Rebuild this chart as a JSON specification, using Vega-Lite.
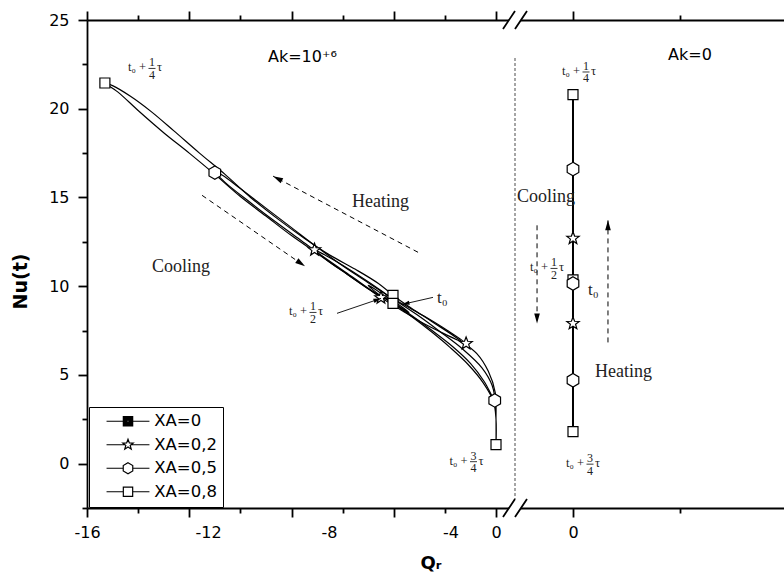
{
"$schema":"https://vega.github.io/schema/vega-lite/v6.json",
"width":697,"height":488,
"autosize":{"type":"none"},
"padding":{"left":87,"top":20,"right":0,"bottom":71},
"background":"white",
"config":{
 "view":{"stroke":null},
 "axis":{"domainColor":"black","domainWidth":1.8,"tickColor":"black","tickWidth":1.8,"labelColor":"black","labelFont":"DejaVu Sans","labelFontSize":16,"titleFont":"DejaVu Sans","titleColor":"black","titleFontWeight":"bold","grid":false}
},
"datasets":{
 "curves":[
  {"s":"XA=0,8","i":1,"Qr":-4.03,"Nu":9.48},{"s":"XA=0,8","i":2,"Qr":-4.6,"Nu":10.15},{"s":"XA=0,8","i":3,"Qr":-5.5,"Nu":10.95},{"s":"XA=0,8","i":4,"Qr":-6.5,"Nu":11.75},{"s":"XA=0,8","i":5,"Qr":-7.5,"Nu":12.7},{"s":"XA=0,8","i":6,"Qr":-8.5,"Nu":13.75},{"s":"XA=0,8","i":7,"Qr":-9.6,"Nu":15.0},{"s":"XA=0,8","i":8,"Qr":-10.6,"Nu":16.3},{"s":"XA=0,8","i":9,"Qr":-11.6,"Nu":17.5},{"s":"XA=0,8","i":10,"Qr":-12.6,"Nu":18.75},{"s":"XA=0,8","i":11,"Qr":-13.5,"Nu":19.85},{"s":"XA=0,8","i":12,"Qr":-14.3,"Nu":20.7},{"s":"XA=0,8","i":13,"Qr":-15.0,"Nu":21.3},{"s":"XA=0,8","i":14,"Qr":-15.3,"Nu":21.45},{"s":"XA=0,8","i":15,"Qr":-14.8,"Nu":20.95},{"s":"XA=0,8","i":16,"Qr":-14.0,"Nu":19.9},{"s":"XA=0,8","i":17,"Qr":-13.0,"Nu":18.65},{"s":"XA=0,8","i":18,"Qr":-12.0,"Nu":17.5},{"s":"XA=0,8","i":19,"Qr":-11.0,"Nu":16.3},{"s":"XA=0,8","i":20,"Qr":-10.0,"Nu":15.05},{"s":"XA=0,8","i":21,"Qr":-9.0,"Nu":13.95},{"s":"XA=0,8","i":22,"Qr":-8.0,"Nu":12.85},{"s":"XA=0,8","i":23,"Qr":-7.0,"Nu":11.85},{"s":"XA=0,8","i":24,"Qr":-6.0,"Nu":10.85},{"s":"XA=0,8","i":25,"Qr":-5.0,"Nu":9.85},{"s":"XA=0,8","i":26,"Qr":-4.03,"Nu":9.03},{"s":"XA=0,8","i":27,"Qr":-3.25,"Nu":8.24},{"s":"XA=0,8","i":28,"Qr":-2.5,"Nu":7.4},{"s":"XA=0,8","i":29,"Qr":-1.8,"Nu":6.55},{"s":"XA=0,8","i":30,"Qr":-1.1,"Nu":5.6},{"s":"XA=0,8","i":31,"Qr":-0.5,"Nu":4.55},{"s":"XA=0,8","i":32,"Qr":-0.1,"Nu":3.5},{"s":"XA=0,8","i":33,"Qr":0,"Nu":2.5},{"s":"XA=0,8","i":34,"Qr":0,"Nu":1.07},{"s":"XA=0,8","i":35,"Qr":0,"Nu":2.5},{"s":"XA=0,8","i":36,"Qr":-0.03,"Nu":4.0},{"s":"XA=0,8","i":37,"Qr":-0.3,"Nu":5.2},{"s":"XA=0,8","i":38,"Qr":-0.75,"Nu":6.2},{"s":"XA=0,8","i":39,"Qr":-1.55,"Nu":7.1},{"s":"XA=0,8","i":40,"Qr":-2.5,"Nu":8.0},{"s":"XA=0,8","i":41,"Qr":-3.35,"Nu":8.8},{"s":"XA=0,8","i":42,"Qr":-4.03,"Nu":9.48},
  {"s":"XA=0,5","i":1,"Qr":-4.1,"Nu":9.35},{"s":"XA=0,5","i":2,"Qr":-5.0,"Nu":10.2},{"s":"XA=0,5","i":3,"Qr":-6.0,"Nu":11.15},{"s":"XA=0,5","i":4,"Qr":-7.0,"Nu":12.2},{"s":"XA=0,5","i":5,"Qr":-8.0,"Nu":13.3},{"s":"XA=0,5","i":6,"Qr":-9.0,"Nu":14.4},{"s":"XA=0,5","i":7,"Qr":-10.0,"Nu":15.5},{"s":"XA=0,5","i":8,"Qr":-10.7,"Nu":16.25},{"s":"XA=0,5","i":9,"Qr":-11.0,"Nu":16.45},{"s":"XA=0,5","i":10,"Qr":-10.6,"Nu":15.85},{"s":"XA=0,5","i":11,"Qr":-9.6,"Nu":14.7},{"s":"XA=0,5","i":12,"Qr":-8.6,"Nu":13.6},{"s":"XA=0,5","i":13,"Qr":-7.6,"Nu":12.55},{"s":"XA=0,5","i":14,"Qr":-6.6,"Nu":11.5},{"s":"XA=0,5","i":15,"Qr":-5.6,"Nu":10.5},{"s":"XA=0,5","i":16,"Qr":-4.7,"Nu":9.6},{"s":"XA=0,5","i":17,"Qr":-4.1,"Nu":9.15},{"s":"XA=0,5","i":18,"Qr":-3.3,"Nu":8.35},{"s":"XA=0,5","i":19,"Qr":-2.5,"Nu":7.5},{"s":"XA=0,5","i":20,"Qr":-1.7,"Nu":6.6},{"s":"XA=0,5","i":21,"Qr":-1.0,"Nu":5.65},{"s":"XA=0,5","i":22,"Qr":-0.45,"Nu":4.6},{"s":"XA=0,5","i":23,"Qr":-0.05,"Nu":3.56},{"s":"XA=0,5","i":24,"Qr":-0.15,"Nu":4.4},{"s":"XA=0,5","i":25,"Qr":-0.55,"Nu":5.4},{"s":"XA=0,5","i":26,"Qr":-1.3,"Nu":6.45},{"s":"XA=0,5","i":27,"Qr":-2.2,"Nu":7.45},{"s":"XA=0,5","i":28,"Qr":-3.1,"Nu":8.4},{"s":"XA=0,5","i":29,"Qr":-4.1,"Nu":9.35},
  {"s":"XA=0,2","i":1,"Qr":-4.2,"Nu":9.45},{"s":"XA=0,2","i":2,"Qr":-5.0,"Nu":10.25},{"s":"XA=0,2","i":3,"Qr":-5.8,"Nu":11.0},{"s":"XA=0,2","i":4,"Qr":-6.5,"Nu":11.6},{"s":"XA=0,2","i":5,"Qr":-7.1,"Nu":12.05},{"s":"XA=0,2","i":6,"Qr":-6.6,"Nu":11.45},{"s":"XA=0,2","i":7,"Qr":-5.8,"Nu":10.65},{"s":"XA=0,2","i":8,"Qr":-5.0,"Nu":9.85},{"s":"XA=0,2","i":9,"Qr":-4.5,"Nu":9.35},{"s":"XA=0,2","i":10,"Qr":-3.7,"Nu":8.65},{"s":"XA=0,2","i":11,"Qr":-2.9,"Nu":7.95},{"s":"XA=0,2","i":12,"Qr":-2.0,"Nu":7.3},{"s":"XA=0,2","i":13,"Qr":-1.17,"Nu":6.77},{"s":"XA=0,2","i":14,"Qr":-1.9,"Nu":7.5},{"s":"XA=0,2","i":15,"Qr":-2.8,"Nu":8.3},{"s":"XA=0,2","i":16,"Qr":-3.6,"Nu":8.95},{"s":"XA=0,2","i":17,"Qr":-4.2,"Nu":9.45},
  {"s":"XA=0","i":1,"Qr":-4.2,"Nu":9.3},{"s":"XA=0","i":2,"Qr":-4.7,"Nu":9.8},{"s":"XA=0","i":3,"Qr":-5.0,"Nu":10.05},{"s":"XA=0","i":4,"Qr":-4.6,"Nu":9.55},{"s":"XA=0","i":5,"Qr":-4.2,"Nu":9.2},{"s":"XA=0","i":6,"Qr":-3.7,"Nu":8.75},{"s":"XA=0","i":7,"Qr":-3.4,"Nu":8.5},{"s":"XA=0","i":8,"Qr":-3.8,"Nu":8.95},{"s":"XA=0","i":9,"Qr":-4.2,"Nu":9.3}
 ],
 "markers":[
  {"panel":"L","s":"XA=0,8","Qr":-15.3,"Nu":21.45},{"panel":"L","s":"XA=0,8","Qr":-4.03,"Nu":9.48},{"panel":"L","s":"XA=0,8","Qr":-4.03,"Nu":9.03},{"panel":"L","s":"XA=0,8","Qr":0,"Nu":1.07},
  {"panel":"L","s":"XA=0,5","Qr":-11.0,"Nu":16.4},{"panel":"L","s":"XA=0,5","Qr":-0.05,"Nu":3.56},
  {"panel":"L","s":"XA=0,2","Qr":-7.1,"Nu":12.05},{"panel":"L","s":"XA=0,2","Qr":-1.17,"Nu":6.77},{"panel":"L","s":"XA=0,2","Qr":-4.5,"Nu":9.35},
  {"panel":"R","s":"XA=0,8","Qr":0,"Nu":20.8},{"panel":"R","s":"XA=0,8","Qr":0,"Nu":10.35},{"panel":"R","s":"XA=0,8","Qr":0,"Nu":1.8},
  {"panel":"R","s":"XA=0,5","Qr":0,"Nu":16.6},{"panel":"R","s":"XA=0,5","Qr":0,"Nu":10.15},{"panel":"R","s":"XA=0,5","Qr":0,"Nu":4.7},
  {"panel":"R","s":"XA=0,2","Qr":0,"Nu":12.7},{"panel":"R","s":"XA=0,2","Qr":0,"Nu":7.9}
 ],
 "arrows":[
  {"panel":"L","kind":"dash","name":"hL","Qr":-3.05,"Nu":11.91,"Qr2":-8.72,"Nu2":16.2},
  {"panel":"L","kind":"dash","name":"cL","Qr":-11.5,"Nu":15.12,"Qr2":-7.47,"Nu2":11.12},
  {"panel":"L","kind":"pointer","name":"t0L","Qr":-2.465,"Nu":9.37,"Qr2":-3.68,"Nu2":8.97},
  {"panel":"L","kind":"pointer","name":"halfL","Qr":-6.22,"Nu":8.47,"Qr2":-4.5,"Nu2":9.31},
  {"panel":"R","kind":"dash","name":"cR","Qr":-0.336,"Nu":13.43,"Qr2":-0.336,"Nu2":7.9},
  {"panel":"R","kind":"dash","name":"hR","Qr":0.327,"Nu":6.83,"Qr2":0.327,"Nu2":13.71}
 ],
 "fractions":[
  {"panel":"L","Qr":-13.457,"Nu":22.27,"num":"1","den":"4"},
  {"panel":"L","Qr":-7.159,"Nu":8.52,"num":"1","den":"2"},
  {"panel":"L","Qr":-0.88,"Nu":0.11,"num":"3","den":"4"},
  {"panel":"R","Qr":0.1216,"Nu":22.07,"num":"1","den":"4"},
  {"panel":"R","Qr":-0.1775,"Nu":11.0,"num":"1","den":"2"},
  {"panel":"R","Qr":0.159,"Nu":-0.03,"num":"3","den":"4"}
 ],
 "notes":[
  {"panel":"L","kind":"t0","note":"t₀","Qr":-2.308,"Nu":9.31},
  {"panel":"R","kind":"t0","note":"t₀","Qr":0.14,"Nu":9.76},
  {"panel":"L","kind":"word","note":"Heating","Qr":-5.633,"Nu":14.45},
  {"panel":"L","kind":"word","note":"Cooling","Qr":-13.457,"Nu":10.78},
  {"panel":"R","kind":"word","note":"Cooling","Qr":-0.523,"Nu":14.73},
  {"panel":"R","kind":"word","note":"Heating","Qr":0.206,"Nu":4.91},
  {"panel":"L","kind":"ak","note":"Ak=10⁺⁶","Qr":-8.92,"Nu":22.65},
  {"panel":"R","kind":"ak","note":"Ak=0","Qr":0.888,"Nu":22.74}
 ],
 "frame":[
  {"item":"break","Qr":-0.542,"Nu":25},
  {"item":"break","Qr":-0.542,"Nu":-2.5},
  {"item":"divider","Qr":-0.542,"Nu":22.86,"Nu2":-2.5}
 ]
},
"layer":[
 {
  "resolve":{"axis":{"x":"independent","y":"independent"}},
  "layer":[
   {"data":{"name":"curves"},
    "mark":{"type":"line","interpolate":"catmull-rom","color":"black","strokeWidth":1.2},
    "encoding":{
     "x":{"field":"Qr","type":"quantitative","scale":{"domain":[-16,0.743],"range":[0,428],"nice":false,"zero":false},
      "axis":{"orient":"bottom","values":[-16,-14,-12,-10,-8,-6,-4,-2,0],
       "labelExpr":"datum.value == -16 ? '-16' : datum.value == 0 ? '0' : ''",
       "tickSize":{"condition":{"test":"datum.value % 4 != 0","value":5},"value":9},
       "labelPadding":7,"labelFlush":false,"labelOverlap":false,"labelBound":false,
       "title":"Qᵣ","titleX":343.5,"titleY":60,"titleBaseline":"alphabetic","titleAlign":"center","titleFontSize":18}},
     "y":{"field":"Nu","type":"quantitative","scale":{"domain":[-2.5,25],"nice":false,"zero":false},
      "axis":{"orient":"left","values":[-2.5,0,2.5,5,7.5,10,12.5,15,17.5,20,22.5,25],
       "labelExpr":"datum.value % 5 == 0 ? datum.label : ''",
       "tickSize":{"condition":{"test":"datum.value % 5 != 0","value":5},"value":9},
       "labelPadding":9,"labelFlush":false,"labelOverlap":false,
       "title":"Nu(t)","titleX":-67,"titleY":261,"titleAngle":270,"titleBaseline":"middle","titleAlign":"center","titleFontSize":19}},
     "detail":{"field":"s","type":"nominal"},
     "order":{"field":"i","type":"quantitative"}}},
   {"data":{"name":"markers"},
    "transform":[{"filter":"datum.panel == 'L' && datum.s == 'XA=0,8'"}],
    "mark":{"type":"point","shape":"square","size":100,"filled":true,"fill":"white","stroke":"black","strokeWidth":1.2,"opacity":1},
    "encoding":{
     "x":{"field":"Qr","type":"quantitative","scale":{"domain":[-16,0.743],"range":[0,428],"nice":false,"zero":false},
      "axis":{"orient":"top","values":[-16,-14,-12,-10,-8,-6,-4,-2,0],"labels":false,"title":null,
       "tickSize":{"condition":{"test":"datum.value % 4 != 0","value":5},"value":9}}},
     "y":{"field":"Nu","type":"quantitative","scale":{"domain":[-2.5,25],"nice":false,"zero":false},"axis":null}}},
   {"data":{"name":"markers"},
    "transform":[{"filter":"datum.panel == 'L' && datum.s == 'XA=0,5'"}],
    "mark":{"type":"point","shape":"M0,-1L0.866,-0.5L0.866,0.5L0,1L-0.866,0.5L-0.866,-0.5Z","size":180,"filled":true,"fill":"white","stroke":"black","strokeWidth":1.2,"opacity":1},
    "encoding":{
     "x":{"field":"Qr","type":"quantitative","scale":{"domain":[-16,0.743],"range":[0,428],"nice":false,"zero":false},
      "axis":{"orient":"bottom","values":[-11.267,-6.533,-1.78],"labelExpr":"datum.value < -10 ? '-12' : datum.value < -5 ? '-8' : '-4'",
       "ticks":false,"domain":false,"labelPadding":16,"labelFlush":false,"labelOverlap":false,"labelBound":false,"title":null}},
     "y":{"field":"Nu","type":"quantitative","scale":{"domain":[-2.5,25],"nice":false,"zero":false},"axis":null}}},
   {"data":{"name":"markers"},
    "transform":[{"filter":"datum.panel == 'L' && datum.s == 'XA=0,2'"}],
    "mark":{"type":"point","shape":"M0,-1L0.247,-0.34L0.951,-0.309L0.399,0.13L0.588,0.809L0,0.42L-0.588,0.809L-0.399,0.13L-0.951,-0.309L-0.247,-0.34Z","size":170,"filled":true,"fill":"white","stroke":"black","strokeWidth":1.2,"opacity":1},
    "encoding":{
     "x":{"field":"Qr","type":"quantitative","scale":{"domain":[-16,0.743],"range":[0,428],"nice":false,"zero":false},"axis":null},
     "y":{"field":"Nu","type":"quantitative","scale":{"domain":[-2.5,25],"nice":false,"zero":false},"axis":null}}},
   {"data":{"name":"markers"},
    "transform":[{"filter":"datum.panel == 'none'"}],
    "mark":{"type":"point","filled":false,"color":"black","strokeWidth":1.2,"opacity":1},
    "encoding":{
     "shape":{"field":"s","type":"nominal",
      "scale":{"domain":["XA=0","XA=0,2","XA=0,5","XA=0,8"],
       "range":["M-3.9,0H-0.85M0.85,0H3.9M-0.85,-0.85H0.85V0.85H-0.85ZM-0.63,-0.63H0.63V0.63H-0.63ZM-0.42,-0.42H0.42V0.42H-0.42ZM-0.21,-0.21H0.21V0.21H-0.21ZM-0.05,0H0.05",
        "M-3.9,0H-0.6M0.6,0H3.9M0,-1L0.247,-0.34L0.951,-0.309L0.399,0.13L0.588,0.809L0,0.42L-0.588,0.809L-0.399,0.13L-0.951,-0.309L-0.247,-0.34Z",
        "M-3.9,0H-0.866M0.866,0H3.9M0,-1L0.866,-0.5L0.866,0.5L0,1L-0.866,0.5L-0.866,-0.5Z",
        "M-3.9,0H-0.85M0.85,0H3.9M-0.85,-0.85H0.85V0.85H-0.85Z"]},
      "legend":{"title":null,"orient":"none","legendX":2,"legendY":387,"padding":6,"strokeColor":"black","fillColor":"white","symbolSize":121,"symbolStrokeWidth":1.2,"symbolStrokeColor":"black","symbolOffset":24.75,"labelOffset":18,"rowPadding":6.5,"labelFont":"DejaVu Sans","labelFontSize":16.5,"labelColor":"black"}}}},
   {"data":{"name":"arrows"},
    "transform":[{"filter":"datum.panel == 'L' && datum.kind == 'dash'"}],
    "mark":{"type":"rule","color":"black","strokeWidth":1,"strokeDash":[5,4]},
    "encoding":{
     "x":{"field":"Qr","type":"quantitative","scale":{"domain":[-16,0.743],"range":[0,428],"nice":false,"zero":false},"axis":null},
     "y":{"field":"Nu","type":"quantitative","scale":{"domain":[-2.5,25],"nice":false,"zero":false},"axis":null},
     "x2":{"field":"Qr2"},"y2":{"field":"Nu2"}}},
   {"data":{"name":"arrows"},
    "transform":[{"filter":"datum.panel == 'L' && datum.kind == 'pointer'"}],
    "mark":{"type":"rule","color":"black","strokeWidth":0.9},
    "encoding":{
     "x":{"field":"Qr","type":"quantitative","scale":{"domain":[-16,0.743],"range":[0,428],"nice":false,"zero":false},"axis":null},
     "y":{"field":"Nu","type":"quantitative","scale":{"domain":[-2.5,25],"nice":false,"zero":false},"axis":null},
     "x2":{"field":"Qr2"},"y2":{"field":"Nu2"}}},
   {"data":{"name":"arrows"},
    "transform":[{"filter":"datum.name == 'hL'"}],
    "mark":{"type":"point","shape":"M0,0L0.45,1.6L-0.45,1.6Z","size":156,"angle":297.7,"filled":true,"color":"black","opacity":1},
    "encoding":{
     "x":{"field":"Qr2","type":"quantitative","scale":{"domain":[-16,0.743],"range":[0,428],"nice":false,"zero":false},"axis":null},
     "y":{"field":"Nu2","type":"quantitative","scale":{"domain":[-2.5,25],"nice":false,"zero":false},"axis":null}}},
   {"data":{"name":"arrows"},
    "transform":[{"filter":"datum.name == 'cL'"}],
    "mark":{"type":"point","shape":"M0,0L0.45,1.6L-0.45,1.6Z","size":156,"angle":124.6,"filled":true,"color":"black","opacity":1},
    "encoding":{
     "x":{"field":"Qr2","type":"quantitative","scale":{"domain":[-16,0.743],"range":[0,428],"nice":false,"zero":false},"axis":null},
     "y":{"field":"Nu2","type":"quantitative","scale":{"domain":[-2.5,25],"nice":false,"zero":false},"axis":null}}},
   {"data":{"name":"arrows"},
    "transform":[{"filter":"datum.name == 't0L'"}],
    "mark":{"type":"point","shape":"M0,0L0.45,1.6L-0.45,1.6Z","size":90,"angle":257.3,"filled":true,"color":"black","opacity":1},
    "encoding":{
     "x":{"field":"Qr2","type":"quantitative","scale":{"domain":[-16,0.743],"range":[0,428],"nice":false,"zero":false},"axis":null},
     "y":{"field":"Nu2","type":"quantitative","scale":{"domain":[-2.5,25],"nice":false,"zero":false},"axis":null}}},
   {"data":{"name":"arrows"},
    "transform":[{"filter":"datum.name == 'halfL'"}],
    "mark":{"type":"point","shape":"M0,0L0.45,1.6L-0.45,1.6Z","size":90,"angle":71.2,"filled":true,"color":"black","opacity":1},
    "encoding":{
     "x":{"field":"Qr2","type":"quantitative","scale":{"domain":[-16,0.743],"range":[0,428],"nice":false,"zero":false},"axis":null},
     "y":{"field":"Nu2","type":"quantitative","scale":{"domain":[-2.5,25],"nice":false,"zero":false},"axis":null}}},
   {"data":{"name":"fractions"},
    "transform":[{"filter":"datum.panel == 'L'"}],
    "mark":{"type":"text","text":"t₀ +","align":"right","baseline":"alphabetic","dx":-6,"dy":3,"font":"Liberation Serif","fontSize":12.5,"color":"#222"},
    "encoding":{
     "x":{"field":"Qr","type":"quantitative","scale":{"domain":[-16,0.743],"range":[0,428],"nice":false,"zero":false},"axis":null},
     "y":{"field":"Nu","type":"quantitative","scale":{"domain":[-2.5,25],"nice":false,"zero":false},"axis":null}}},
   {"data":{"name":"fractions"},
    "transform":[{"filter":"datum.panel == 'L'"}],
    "mark":{"type":"text","align":"center","baseline":"middle","dy":-6,"font":"Liberation Serif","fontSize":12,"color":"#222"},
    "encoding":{
     "x":{"field":"Qr","type":"quantitative","scale":{"domain":[-16,0.743],"range":[0,428],"nice":false,"zero":false},"axis":null},
     "y":{"field":"Nu","type":"quantitative","scale":{"domain":[-2.5,25],"nice":false,"zero":false},"axis":null},
     "text":{"field":"num","type":"nominal"}}},
   {"data":{"name":"fractions"},
    "transform":[{"filter":"datum.panel == 'L'"}],
    "mark":{"type":"point","shape":"stroke","size":49,"filled":false,"color":"#222","strokeWidth":0.9,"opacity":1},
    "encoding":{
     "x":{"field":"Qr","type":"quantitative","scale":{"domain":[-16,0.743],"range":[0,428],"nice":false,"zero":false},"axis":null},
     "y":{"field":"Nu","type":"quantitative","scale":{"domain":[-2.5,25],"nice":false,"zero":false},"axis":null}}},
   {"data":{"name":"fractions"},
    "transform":[{"filter":"datum.panel == 'L'"}],
    "mark":{"type":"text","align":"center","baseline":"middle","dy":6.5,"font":"Liberation Serif","fontSize":12,"color":"#222"},
    "encoding":{
     "x":{"field":"Qr","type":"quantitative","scale":{"domain":[-16,0.743],"range":[0,428],"nice":false,"zero":false},"axis":null},
     "y":{"field":"Nu","type":"quantitative","scale":{"domain":[-2.5,25],"nice":false,"zero":false},"axis":null},
     "text":{"field":"den","type":"nominal"}}},
   {"data":{"name":"fractions"},
    "transform":[{"filter":"datum.panel == 'L'"}],
    "mark":{"type":"text","text":"τ","align":"left","baseline":"alphabetic","dx":5,"dy":3,"font":"Liberation Serif","fontSize":12.5,"color":"#222"},
    "encoding":{
     "x":{"field":"Qr","type":"quantitative","scale":{"domain":[-16,0.743],"range":[0,428],"nice":false,"zero":false},"axis":null},
     "y":{"field":"Nu","type":"quantitative","scale":{"domain":[-2.5,25],"nice":false,"zero":false},"axis":null}}},
   {"data":{"name":"notes"},
    "transform":[{"filter":"datum.panel == 'L' && datum.kind == 't0'"}],
    "mark":{"type":"text","align":"left","baseline":"middle","font":"Liberation Serif","fontSize":17,"color":"#222"},
    "encoding":{
     "x":{"field":"Qr","type":"quantitative","scale":{"domain":[-16,0.743],"range":[0,428],"nice":false,"zero":false},"axis":null},
     "y":{"field":"Nu","type":"quantitative","scale":{"domain":[-2.5,25],"nice":false,"zero":false},"axis":null},
     "text":{"field":"note","type":"nominal"}}},
   {"data":{"name":"notes"},
    "transform":[{"filter":"datum.panel == 'L' && datum.kind == 'word'"}],
    "mark":{"type":"text","align":"left","baseline":"alphabetic","font":"Liberation Serif","fontSize":18,"color":"#222"},
    "encoding":{
     "x":{"field":"Qr","type":"quantitative","scale":{"domain":[-16,0.743],"range":[0,428],"nice":false,"zero":false},"axis":null},
     "y":{"field":"Nu","type":"quantitative","scale":{"domain":[-2.5,25],"nice":false,"zero":false},"axis":null},
     "text":{"field":"note","type":"nominal"}}},
   {"data":{"name":"notes"},
    "transform":[{"filter":"datum.panel == 'L' && datum.kind == 'ak'"}],
    "mark":{"type":"text","align":"left","baseline":"alphabetic","font":"DejaVu Sans","fontSize":16,"color":"black"},
    "encoding":{
     "x":{"field":"Qr","type":"quantitative","scale":{"domain":[-16,0.743],"range":[0,428],"nice":false,"zero":false},"axis":null},
     "y":{"field":"Nu","type":"quantitative","scale":{"domain":[-2.5,25],"nice":false,"zero":false},"axis":null},
     "text":{"field":"note","type":"nominal"}}}
  ]
 },
 {
  "resolve":{"axis":{"x":"independent","y":"independent"}},
  "layer":[
   {"data":{"name":"markers"},
    "transform":[{"filter":"datum.panel == 'R'"}],
    "mark":{"type":"line","color":"black","strokeWidth":2},
    "encoding":{
     "x":{"field":"Qr","type":"quantitative","scale":{"domain":[-0.542,1.972],"range":[428,697],"nice":false,"zero":false},
      "axis":{"orient":"bottom","values":[0,1],"labelExpr":"datum.value == 0 ? '0' : ''",
       "tickSize":{"condition":{"test":"datum.value != 0","value":5},"value":9},
       "labelPadding":7,"labelFlush":false,"labelOverlap":false,"title":null}},
     "y":{"field":"Nu","type":"quantitative","scale":{"domain":[-2.5,25],"nice":false,"zero":false},"axis":null},
     "order":{"field":"Nu","type":"quantitative"}}},
   {"data":{"name":"markers"},
    "transform":[{"filter":"datum.panel == 'R' && datum.s == 'XA=0,8'"}],
    "mark":{"type":"point","shape":"square","size":100,"filled":true,"fill":"white","stroke":"black","strokeWidth":1.2,"opacity":1},
    "encoding":{
     "x":{"field":"Qr","type":"quantitative","scale":{"domain":[-0.542,1.972],"range":[428,697],"nice":false,"zero":false},
      "axis":{"orient":"top","values":[0,1],"labels":false,"title":null,
       "tickSize":{"condition":{"test":"datum.value != 0","value":5},"value":9}}},
     "y":{"field":"Nu","type":"quantitative","scale":{"domain":[-2.5,25],"nice":false,"zero":false},"axis":null}}},
   {"data":{"name":"markers"},
    "transform":[{"filter":"datum.panel == 'R' && datum.s == 'XA=0,5'"}],
    "mark":{"type":"point","shape":"M0,-1L0.866,-0.5L0.866,0.5L0,1L-0.866,0.5L-0.866,-0.5Z","size":180,"filled":true,"fill":"white","stroke":"black","strokeWidth":1.2,"opacity":1},
    "encoding":{
     "x":{"field":"Qr","type":"quantitative","scale":{"domain":[-0.542,1.972],"range":[428,697],"nice":false,"zero":false},"axis":null},
     "y":{"field":"Nu","type":"quantitative","scale":{"domain":[-2.5,25],"nice":false,"zero":false},"axis":null}}},
   {"data":{"name":"markers"},
    "transform":[{"filter":"datum.panel == 'R' && datum.s == 'XA=0,2'"}],
    "mark":{"type":"point","shape":"M0,-1L0.247,-0.34L0.951,-0.309L0.399,0.13L0.588,0.809L0,0.42L-0.588,0.809L-0.399,0.13L-0.951,-0.309L-0.247,-0.34Z","size":170,"filled":true,"fill":"white","stroke":"black","strokeWidth":1.2,"opacity":1},
    "encoding":{
     "x":{"field":"Qr","type":"quantitative","scale":{"domain":[-0.542,1.972],"range":[428,697],"nice":false,"zero":false},"axis":null},
     "y":{"field":"Nu","type":"quantitative","scale":{"domain":[-2.5,25],"nice":false,"zero":false},"axis":null}}},
   {"data":{"name":"frame"},
    "transform":[{"filter":"datum.item == 'divider'"}],
    "mark":{"type":"rule","color":"#888","strokeWidth":1.5,"strokeDash":[3,2]},
    "encoding":{
     "x":{"field":"Qr","type":"quantitative","scale":{"domain":[-0.542,1.972],"range":[428,697],"nice":false,"zero":false},"axis":null},
     "y":{"field":"Nu","type":"quantitative","scale":{"domain":[-2.5,25],"nice":false,"zero":false},"axis":null},
     "y2":{"field":"Nu2"}}},
   {"data":{"name":"frame"},
    "transform":[{"filter":"datum.item == 'break'"}],
    "mark":{"type":"point","shape":"M-1,0.75L0,-0.75L1,-0.75L0,0.75Z","size":576,"filled":true,"fill":"white","strokeWidth":0,"opacity":1},
    "encoding":{
     "x":{"field":"Qr","type":"quantitative","scale":{"domain":[-0.542,1.972],"range":[428,697],"nice":false,"zero":false},"axis":null},
     "y":{"field":"Nu","type":"quantitative","scale":{"domain":[-2.5,25],"nice":false,"zero":false},"axis":null}}},
   {"data":{"name":"frame"},
    "transform":[{"filter":"datum.item == 'break'"}],
    "mark":{"type":"point","shape":"M-1,0.75L0,-0.75M0,0.75L1,-0.75","size":576,"filled":false,"stroke":"black","strokeWidth":1.8,"opacity":1},
    "encoding":{
     "x":{"field":"Qr","type":"quantitative","scale":{"domain":[-0.542,1.972],"range":[428,697],"nice":false,"zero":false},"axis":null},
     "y":{"field":"Nu","type":"quantitative","scale":{"domain":[-2.5,25],"nice":false,"zero":false},"axis":null}}},
   {"data":{"name":"arrows"},
    "transform":[{"filter":"datum.panel == 'R' && datum.kind == 'dash'"}],
    "mark":{"type":"rule","color":"black","strokeWidth":1,"strokeDash":[5,4]},
    "encoding":{
     "x":{"field":"Qr","type":"quantitative","scale":{"domain":[-0.542,1.972],"range":[428,697],"nice":false,"zero":false},"axis":null},
     "y":{"field":"Nu","type":"quantitative","scale":{"domain":[-2.5,25],"nice":false,"zero":false},"axis":null},
     "x2":{"field":"Qr2"},"y2":{"field":"Nu2"}}},
   {"data":{"name":"arrows"},
    "transform":[{"filter":"datum.name == 'cR'"}],
    "mark":{"type":"point","shape":"M0,0L0.45,1.6L-0.45,1.6Z","size":156,"angle":180,"filled":true,"color":"black","opacity":1},
    "encoding":{
     "x":{"field":"Qr2","type":"quantitative","scale":{"domain":[-0.542,1.972],"range":[428,697],"nice":false,"zero":false},"axis":null},
     "y":{"field":"Nu2","type":"quantitative","scale":{"domain":[-2.5,25],"nice":false,"zero":false},"axis":null}}},
   {"data":{"name":"arrows"},
    "transform":[{"filter":"datum.name == 'hR'"}],
    "mark":{"type":"point","shape":"M0,0L0.45,1.6L-0.45,1.6Z","size":156,"angle":0,"filled":true,"color":"black","opacity":1},
    "encoding":{
     "x":{"field":"Qr2","type":"quantitative","scale":{"domain":[-0.542,1.972],"range":[428,697],"nice":false,"zero":false},"axis":null},
     "y":{"field":"Nu2","type":"quantitative","scale":{"domain":[-2.5,25],"nice":false,"zero":false},"axis":null}}},
   {"data":{"name":"fractions"},
    "transform":[{"filter":"datum.panel == 'R'"}],
    "mark":{"type":"text","text":"t₀ +","align":"right","baseline":"alphabetic","dx":-6,"dy":3,"font":"Liberation Serif","fontSize":12.5,"color":"#222"},
    "encoding":{
     "x":{"field":"Qr","type":"quantitative","scale":{"domain":[-0.542,1.972],"range":[428,697],"nice":false,"zero":false},"axis":null},
     "y":{"field":"Nu","type":"quantitative","scale":{"domain":[-2.5,25],"nice":false,"zero":false},"axis":null}}},
   {"data":{"name":"fractions"},
    "transform":[{"filter":"datum.panel == 'R'"}],
    "mark":{"type":"text","align":"center","baseline":"middle","dy":-6,"font":"Liberation Serif","fontSize":12,"color":"#222"},
    "encoding":{
     "x":{"field":"Qr","type":"quantitative","scale":{"domain":[-0.542,1.972],"range":[428,697],"nice":false,"zero":false},"axis":null},
     "y":{"field":"Nu","type":"quantitative","scale":{"domain":[-2.5,25],"nice":false,"zero":false},"axis":null},
     "text":{"field":"num","type":"nominal"}}},
   {"data":{"name":"fractions"},
    "transform":[{"filter":"datum.panel == 'R'"}],
    "mark":{"type":"point","shape":"stroke","size":49,"filled":false,"color":"#222","strokeWidth":0.9,"opacity":1},
    "encoding":{
     "x":{"field":"Qr","type":"quantitative","scale":{"domain":[-0.542,1.972],"range":[428,697],"nice":false,"zero":false},"axis":null},
     "y":{"field":"Nu","type":"quantitative","scale":{"domain":[-2.5,25],"nice":false,"zero":false},"axis":null}}},
   {"data":{"name":"fractions"},
    "transform":[{"filter":"datum.panel == 'R'"}],
    "mark":{"type":"text","align":"center","baseline":"middle","dy":6.5,"font":"Liberation Serif","fontSize":12,"color":"#222"},
    "encoding":{
     "x":{"field":"Qr","type":"quantitative","scale":{"domain":[-0.542,1.972],"range":[428,697],"nice":false,"zero":false},"axis":null},
     "y":{"field":"Nu","type":"quantitative","scale":{"domain":[-2.5,25],"nice":false,"zero":false},"axis":null},
     "text":{"field":"den","type":"nominal"}}},
   {"data":{"name":"fractions"},
    "transform":[{"filter":"datum.panel == 'R'"}],
    "mark":{"type":"text","text":"τ","align":"left","baseline":"alphabetic","dx":5,"dy":3,"font":"Liberation Serif","fontSize":12.5,"color":"#222"},
    "encoding":{
     "x":{"field":"Qr","type":"quantitative","scale":{"domain":[-0.542,1.972],"range":[428,697],"nice":false,"zero":false},"axis":null},
     "y":{"field":"Nu","type":"quantitative","scale":{"domain":[-2.5,25],"nice":false,"zero":false},"axis":null}}},
   {"data":{"name":"notes"},
    "transform":[{"filter":"datum.panel == 'R' && datum.kind == 't0'"}],
    "mark":{"type":"text","align":"left","baseline":"middle","font":"Liberation Serif","fontSize":17,"color":"#222"},
    "encoding":{
     "x":{"field":"Qr","type":"quantitative","scale":{"domain":[-0.542,1.972],"range":[428,697],"nice":false,"zero":false},"axis":null},
     "y":{"field":"Nu","type":"quantitative","scale":{"domain":[-2.5,25],"nice":false,"zero":false},"axis":null},
     "text":{"field":"note","type":"nominal"}}},
   {"data":{"name":"notes"},
    "transform":[{"filter":"datum.panel == 'R' && datum.kind == 'word'"}],
    "mark":{"type":"text","align":"left","baseline":"alphabetic","font":"Liberation Serif","fontSize":18,"color":"#222"},
    "encoding":{
     "x":{"field":"Qr","type":"quantitative","scale":{"domain":[-0.542,1.972],"range":[428,697],"nice":false,"zero":false},"axis":null},
     "y":{"field":"Nu","type":"quantitative","scale":{"domain":[-2.5,25],"nice":false,"zero":false},"axis":null},
     "text":{"field":"note","type":"nominal"}}},
   {"data":{"name":"notes"},
    "transform":[{"filter":"datum.panel == 'R' && datum.kind == 'ak'"}],
    "mark":{"type":"text","align":"left","baseline":"alphabetic","font":"DejaVu Sans","fontSize":16,"color":"black"},
    "encoding":{
     "x":{"field":"Qr","type":"quantitative","scale":{"domain":[-0.542,1.972],"range":[428,697],"nice":false,"zero":false},"axis":null},
     "y":{"field":"Nu","type":"quantitative","scale":{"domain":[-2.5,25],"nice":false,"zero":false},"axis":null},
     "text":{"field":"note","type":"nominal"}}}
  ]
 }
],
"resolve":{"scale":{"x":"independent"},"axis":{"x":"independent","y":"independent"}}
}
